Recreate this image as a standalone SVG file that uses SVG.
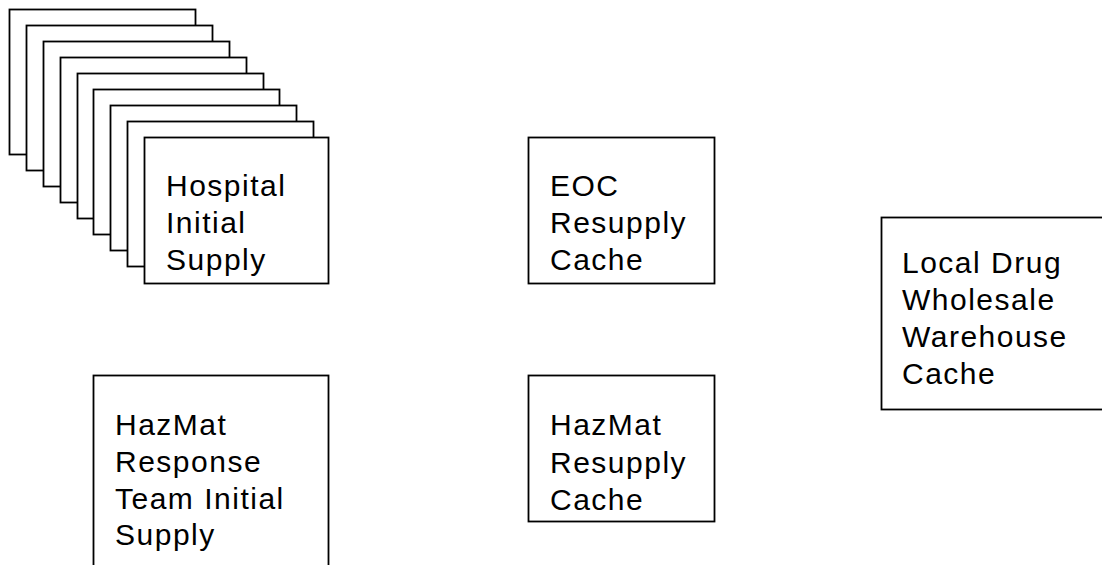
<svg xmlns="http://www.w3.org/2000/svg" width="1102" height="565" viewBox="0 0 1102 565">
<style>
.box{fill:#fff;stroke:#000;stroke-width:1.8}
.lbl{font-family:"Liberation Sans",Arial,sans-serif;font-size:30px;fill:#000;letter-spacing:1.5px}
</style>
<rect width="1102" height="565" fill="#fff"/>
<g id="connectors"></g>
<g id="hospital-initial-supply">
<rect class="box" x="9.5" y="9.5" width="186" height="145"/>
<rect class="box" x="26.5" y="25.5" width="186" height="145"/>
<rect class="box" x="43.5" y="41.5" width="186" height="145"/>
<rect class="box" x="60.5" y="57.5" width="186" height="145"/>
<rect class="box" x="77.5" y="73.5" width="186" height="145"/>
<rect class="box" x="93.5" y="89.5" width="186" height="145"/>
<rect class="box" x="110.5" y="105.5" width="186" height="145"/>
<rect class="box" x="127.5" y="121.5" width="186" height="145"/>
<rect class="box" x="144.5" y="137.5" width="184" height="146"/>
<text class="lbl" x="166" y="196">Hospital</text>
<text class="lbl" x="166" y="233">Initial</text>
<text class="lbl" x="166" y="270">Supply</text>
</g>
<g id="eoc-resupply-cache">
<rect class="box" x="528.5" y="137.5" width="186" height="146"/>
<text class="lbl" x="550" y="196">EOC</text>
<text class="lbl" x="550" y="233">Resupply</text>
<text class="lbl" x="550" y="270">Cache</text>
</g>
<g id="local-drug-wholesale-warehouse-cache">
<rect class="box" x="881.5" y="217.5" width="240" height="192"/>
<text class="lbl" x="902" y="273">Local Drug</text>
<text class="lbl" x="902" y="310">Wholesale</text>
<text class="lbl" x="902" y="347">Warehouse</text>
<text class="lbl" x="902" y="384">Cache</text>
</g>
<g id="hazmat-response-team-initial-supply">
<rect class="box" x="93.5" y="375.5" width="235" height="210"/>
<text class="lbl" x="115" y="435">HazMat</text>
<text class="lbl" x="115" y="472">Response</text>
<text class="lbl" x="115" y="509">Team Initial</text>
<text class="lbl" x="115" y="545">Supply</text>
</g>
<g id="hazmat-resupply-cache">
<rect class="box" x="528.5" y="375.5" width="186" height="146"/>
<text class="lbl" x="550" y="435">HazMat</text>
<text class="lbl" x="550" y="473">Resupply</text>
<text class="lbl" x="550" y="510">Cache</text>
</g>
</svg>
